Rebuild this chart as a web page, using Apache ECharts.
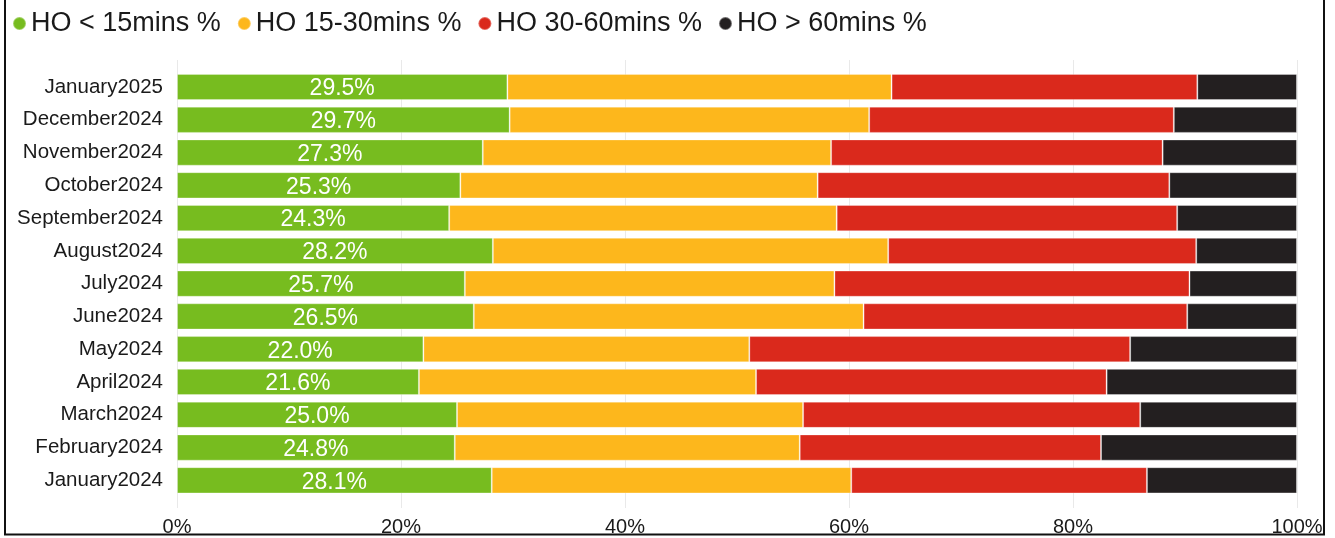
<!DOCTYPE html>
<html>
<head>
<meta charset="utf-8">
<style>
  html, body { margin: 0; padding: 0; background: #fff; }
  #chart { width: 1335px; height: 538px; }
</style>
<script src="https://cdn.jsdelivr.net/npm/echarts@6/dist/echarts.min.js"></script>
</head>
<body>
<div id="chart"></div>
<script>
// Handover time bands per month (share of handovers, %), oldest first
const months = [
  'January2024', 'February2024', 'March2024', 'April2024', 'May2024', 'June2024',
  'July2024', 'August2024', 'September2024', 'October2024', 'November2024',
  'December2024', 'January2025'
];
const hoUnder15 = [28.1, 24.8, 25.0, 21.6, 22.0, 26.5, 25.7, 28.2, 24.3, 25.3, 27.3, 29.7, 29.5];
const ho15to30  = [32.1, 30.8, 30.9, 30.1, 29.1, 34.8, 33.0, 35.3, 34.6, 31.9, 31.1, 32.1, 34.3];
const ho30to60  = [26.4, 26.9, 30.1, 31.3, 34.0, 28.9, 31.7, 27.5, 30.4, 31.4, 29.6, 27.2, 27.3];
const hoOver60  = [13.4, 17.5, 14.0, 17.0, 14.9, 9.8, 9.6, 9.0, 10.7, 11.4, 12.0, 11.0, 8.9];
const seriesNames = ['HO < 15mins %', 'HO 15-30mins %', 'HO 30-60mins %', 'HO > 60mins %'];
const xTicks = [0, 20, 40, 60, 80, 100];

const FONT = '"Liberation Sans", Arial, sans-serif';
const colors = ['#77bc1f', '#fdb71c', '#da291c', '#231f20'];
const values = [hoUnder15, ho15to30, ho30to60, hoOver60];

const chart = echarts.init(document.getElementById('chart'), null, { renderer: 'canvas' });

const series = seriesNames.map((name, i) => ({
  name,
  type: 'bar',
  stack: 'total',
  xAxisIndex: 0,
  yAxisIndex: 0,
  barCategoryGap: '20%',
  data: values[i],
  itemStyle: {
    color: colors[i],
    borderColor: i === 3 ? 'rgba(255,255,255,0.35)' : 'rgba(255,255,255,0.3)',
    borderWidth: 1
  },
  label: i === 0 ? {
    show: true,
    position: 'inside',
    offset: [0, 2],
    color: '#ffffff',
    fontFamily: FONT,
    fontSize: 23,
    formatter: p => p.value.toFixed(1) + '%'
  } : { show: false },
  emphasis: { disabled: true },
  animation: false
}));

chart.setOption({
  animation: false,
  backgroundColor: '#ffffff',
  legend: {
    data: seriesNames,
    left: 12,
    top: 10,
    padding: 0,
    icon: 'circle',
    itemWidth: 13,
    itemHeight: 13,
    itemGap: 16,
    textStyle: { fontFamily: FONT, fontSize: 27, color: '#1a1a1a' }
  },
  grid: [
    // bars
    { left: 177, right: 38, top: 70.6, height: 426.1, containLabel: false },
    // vertical gridlines and percentage ticks
    { left: 177, right: 38, top: 60, height: 448, containLabel: false }
  ],
  xAxis: [
    {
      type: 'value', gridIndex: 0, min: 0, max: 100, interval: 20,
      axisLabel: { show: false }, splitLine: { show: false },
      axisLine: { show: false }, axisTick: { show: false }
    },
    {
      type: 'value', gridIndex: 1, min: xTicks[0], max: xTicks[xTicks.length - 1], interval: 20,
      axisLine: { show: false }, axisTick: { show: false },
      splitLine: { show: true, lineStyle: { color: '#e9e9e9', width: 1 } },
      axisLabel: {
        margin: 9,
        fontFamily: FONT, fontSize: 20, color: '#1a1a1a',
        formatter: v => v + '%'
      }
    }
  ],
  yAxis: [
    {
      type: 'category', gridIndex: 0, data: months,
      axisLine: { show: false }, axisTick: { show: false },
      axisLabel: {
        margin: 14, padding: [4, 0, 0, 0],
        fontFamily: FONT, fontSize: 20.5, color: '#1a1a1a'
      }
    },
    { type: 'value', gridIndex: 1, min: 0, max: 1, show: false }
  ],
  series,
  graphic: [{
    type: 'rect',
    silent: true,
    z: 100,
    shape: { x: 5, y: -10, width: 1319, height: 544.5 },
    style: { fill: 'none', stroke: '#111111', lineWidth: 2 }
  }]
});
</script>
</body>
</html>
